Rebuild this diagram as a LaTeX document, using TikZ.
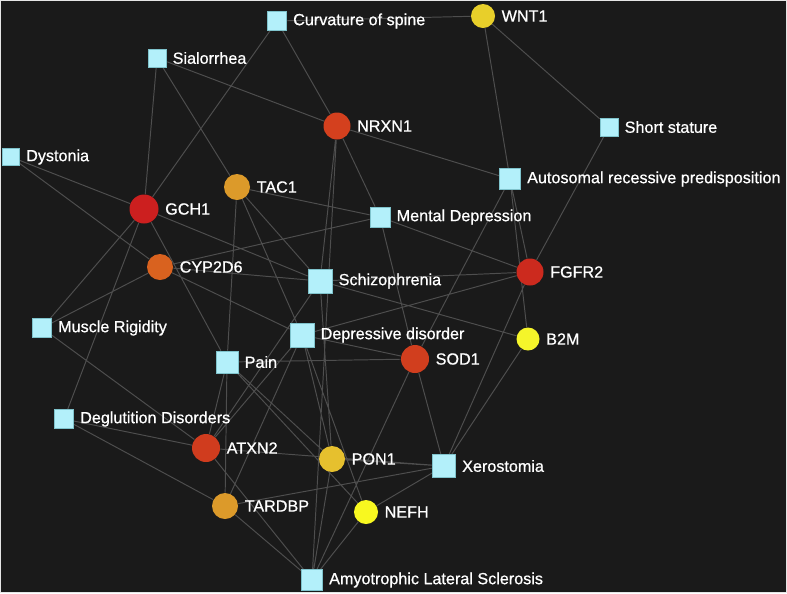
\documentclass[tikz,border=0pt]{standalone}
\usepackage{fontspec}
\setmainfont{Liberation Sans}
\newfontfamily\labfont{Liberation Sans}[FakeBold=0.7]
\usetikzlibrary{backgrounds}
\definecolor{bgc}{HTML}{1A1A1A}
\definecolor{edgec}{HTML}{4E4E4E}
\definecolor{sqfill}{HTML}{B3F0FA}
\definecolor{sqdraw}{HTML}{7FC3CC}
\definecolor{cWNT}{HTML}{E8CF2A}
\definecolor{cNRXN}{HTML}{D4401E}
\definecolor{cTAC}{HTML}{DC9A2A}
\definecolor{cGCH}{HTML}{CC1F1F}
\definecolor{cCYP}{HTML}{D9621F}
\definecolor{cFGF}{HTML}{CC2A1E}
\definecolor{cB2M}{HTML}{F5F52A}
\definecolor{cSOD}{HTML}{D13E1E}
\definecolor{cATX}{HTML}{D03C1E}
\definecolor{cPON}{HTML}{E6C02E}
\definecolor{cTAR}{HTML}{DC9A2A}
\definecolor{cNEF}{HTML}{F8F820}
\newdimen\pxu \pxu=0.02cm
\begin{document}
\begin{tikzpicture}[x=0.02cm,y=-0.02cm,
  dis/.style={rectangle, fill=sqfill, draw=sqdraw, line width=0.4pt, inner sep=0pt, minimum size=#1\pxu},
  gene/.style={circle, inner sep=0pt, minimum size=#1\pxu},
  lab/.style={anchor=west, text=white, font=\labfont\fontsize{9.2}{11}\selectfont, inner sep=0pt, xshift=6\pxu},
  edge/.style={draw=edgec, line width=0.55pt}]
\useasboundingbox (0,0) rectangle (787,593);
% disease nodes
\node[dis=19] (curv) at (277,21) {};
\node[dis=18] (sial) at (157,58) {};
\node[dis=18] (short) at (609,127) {};
\node[dis=17] (dyst) at (11,157) {};
\node[dis=21] (auto) at (510,179) {};
\node[dis=20] (ment) at (380,217) {};
\node[dis=24] (schiz) at (320,281) {};
\node[dis=19] (musc) at (42,328) {};
\node[dis=24] (depr) at (302,335) {};
\node[dis=22] (pain) at (227,362) {};
\node[dis=19] (degl) at (64,419) {};
\node[dis=23] (xero) at (444,466) {};
\node[dis=21] (als) at (312,580) {};
% gene nodes
\node[gene=24, fill=cWNT] (wnt1) at (483,16) {};
\node[gene=27, fill=cNRXN] (nrxn1) at (337,126) {};
\node[gene=26, fill=cTAC] (tac1) at (237,187) {};
\node[gene=29, fill=cGCH] (gch1) at (144,209) {};
\node[gene=26, fill=cCYP] (cyp) at (160,267) {};
\node[gene=27, fill=cFGF] (fgfr2) at (530,272) {};
\node[gene=23, fill=cB2M] (b2m) at (528,339) {};
\node[gene=28, fill=cSOD] (sod1) at (415,359) {};
\node[gene=28, fill=cATX] (atxn2) at (206,448) {};
\node[gene=26, fill=cPON] (pon1) at (332,459) {};
\node[gene=26, fill=cTAR] (tardbp) at (225,506) {};
\node[gene=24, fill=cNEF] (nefh) at (366,512) {};
% labels
\node[lab] (curv-l) at (curv.east) {Curvature of spine};
\node[lab] (sial-l) at (sial.east) {Sialorrhea};
\node[lab] (short-l) at (short.east) {Short stature};
\node[lab] (dyst-l) at (dyst.east) {Dystonia};
\node[lab] (auto-l) at (auto.east) {Autosomal recessive predisposition};
\node[lab] (ment-l) at (ment.east) {Mental Depression};
\node[lab] (schiz-l) at (schiz.east) {Schizophrenia};
\node[lab] (musc-l) at (musc.east) {Muscle Rigidity};
\node[lab] (depr-l) at (depr.east) {Depressive disorder};
\node[lab] (pain-l) at (pain.east) {Pain};
\node[lab] (degl-l) at (degl.east) {Deglutition Disorders};
\node[lab] (xero-l) at (xero.east) {Xerostomia};
\node[lab] (als-l) at (als.east) {Amyotrophic Lateral Sclerosis};
\node[lab] (wnt1-l) at (wnt1.east) {WNT1};
\node[lab] (nrxn1-l) at (nrxn1.east) {NRXN1};
\node[lab] (tac1-l) at (tac1.east) {TAC1};
\node[lab] (gch1-l) at (gch1.east) {GCH1};
\node[lab] (cyp-l) at (cyp.east) {CYP2D6};
\node[lab] (fgfr2-l) at (fgfr2.east) {FGFR2};
\node[lab] (b2m-l) at (b2m.east) {B2M};
\node[lab] (sod1-l) at (sod1.east) {SOD1};
\node[lab] (atxn2-l) at (atxn2.east) {ATXN2};
\node[lab] (pon1-l) at (pon1.east) {PON1};
\node[lab] (tardbp-l) at (tardbp.east) {TARDBP};
\node[lab] (nefh-l) at (nefh.east) {NEFH};
\begin{scope}[on background layer]
\fill[bgc] (0,0) rectangle (787,593);
\draw[edge] (curv) -- (wnt1) (curv) -- (gch1) (curv) -- (nrxn1)
  (sial) -- (nrxn1) (sial) -- (gch1) (sial) -- (tac1)
  (dyst) -- (gch1) (dyst) -- (cyp)
  (nrxn1) -- (auto) (nrxn1) -- (ment) (nrxn1) -- (schiz) (nrxn1) -- (als)
  (wnt1) -- (short) (wnt1) -- (auto)
  (short) -- (fgfr2) (auto) -- (fgfr2) (auto) -- (b2m) (auto) -- (sod1)
  (gch1) -- (schiz) (gch1) -- (musc) (gch1) -- (degl) (gch1) -- (pain)
  (tac1) -- (ment) (tac1) -- (schiz) (tac1) -- (depr) (tac1) -- (pain)
  (cyp) -- (ment) (cyp) -- (schiz) (cyp) -- (depr) (cyp) -- (musc)
  (fgfr2) -- (ment) (fgfr2) -- (schiz) (fgfr2) -- (depr) (fgfr2) -- (xero)
  (b2m) -- (schiz) (b2m) -- (xero)
  (sod1) -- (ment) (sod1) -- (depr) (sod1) -- (pain) (sod1) -- (xero) (sod1) -- (als)
  (atxn2) -- (musc) (atxn2) -- (degl) (atxn2) -- (pain) (atxn2) -- (schiz)
  (atxn2) -- (depr) (atxn2) -- (xero) (atxn2) -- (als)
  (pon1) -- (pain) (pon1) -- (depr) (pon1) -- (schiz) (pon1) -- (als) (pon1) -- (xero)
  (tardbp) -- (degl) (tardbp) -- (pain) (tardbp) -- (depr) (tardbp) -- (xero) (tardbp) -- (als)
  (nefh) -- (pain) (nefh) -- (depr) (nefh) -- (xero) (nefh) -- (als);
\end{scope}
\draw[white!80!gray, line width=0.6pt] (0.5,0.5) rectangle (786.5,592.5);
\end{tikzpicture}
\end{document}
